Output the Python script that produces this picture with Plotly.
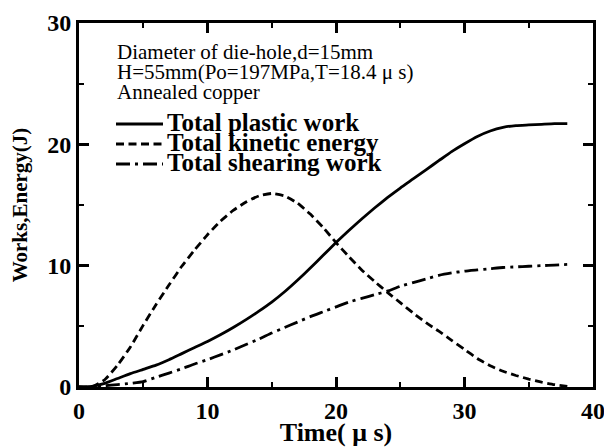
import plotly.graph_objects as go

# ---- data ----
time_us = [0, 1, 2, 3, 4, 5, 6, 7, 8, 9, 10, 11, 12, 13, 14, 15, 16, 17, 18, 19,
           20, 21, 22, 23, 24, 25, 26, 27, 28, 29, 30, 31, 32, 33, 34, 35, 36, 37, 38]

plastic_work = [0, 0.05, 0.3, 0.7, 1.1, 1.45, 1.8, 2.25, 2.75, 3.25, 3.75, 4.3, 4.9, 5.55,
                6.25, 7.0, 7.85, 8.8, 9.8, 10.85, 11.9, 12.9, 13.85, 14.75, 15.6, 16.4, 17.15,
                17.9, 18.65, 19.4, 20.05, 20.65, 21.1, 21.4, 21.55, 21.6, 21.65, 21.7, 21.7]

kinetic_energy = [0, 0.0, 0.6, 1.8, 3.3, 5.1, 6.8, 8.4, 9.95, 11.3, 12.55, 13.65, 14.55, 15.25,
                  15.75, 15.95, 15.75, 15.15, 14.25, 13.15, 11.9, 10.75, 9.65, 8.7, 7.8, 6.95, 6.1,
                  5.3, 4.6, 3.85, 3.1, 2.35, 1.75, 1.3, 0.95, 0.65, 0.4, 0.2, 0.05]

shearing_work = [0, 0.0, 0.1, 0.2, 0.3, 0.45, 0.8, 1.15, 1.5, 1.9, 2.25, 2.65, 3.05, 3.5,
                 3.95, 4.45, 4.9, 5.35, 5.8, 6.2, 6.6, 7.0, 7.3, 7.6, 7.9, 8.3, 8.6, 8.9,
                 9.2, 9.4, 9.55, 9.65, 9.75, 9.85, 9.9, 9.95, 10.0, 10.05, 10.1]

series_names = ["Total plastic work", "Total kinetic energy", "Total shearing work"]
info_lines = ["Diameter of die-hole,d=15mm",
              "H=55mm(Po=197MPa,T=18.4 \u03bc s)",
              "Annealed copper"]

x_ticks = [0, 10, 20, 30, 40]
y_ticks = [0, 10, 20, 30]

# ---- styling ----
W, H = 604, 447
ML, MR, MT, MB = 79, 11, 23, 60
PW, PH = W - ML - MR, H - MT - MB
SERIF = "Liberation Serif, Times New Roman, serif"
dash_styles = ["solid", "8px,4.5px", "14px,5px,3px,5px"]
LW = 2.8

def px_x(px):
    return (px - ML) / PW

def px_y(py):
    return (H - MB - py) / PH

fig = go.Figure()
for name, vals, dash in zip(series_names, [plastic_work, kinetic_energy, shearing_work], dash_styles):
    fig.add_trace(go.Scatter(x=time_us, y=vals, mode="lines", name=name,
                             line=dict(color="black", width=LW, dash=dash, shape="spline", smoothing=0.5),
                             showlegend=False, hoverinfo="skip"))

annotations = []
for i, txt in enumerate(info_lines):
    annotations.append(dict(text=txt, xref="paper", yref="paper",
                            x=px_x(115), y=px_y(52 + 20 * i), xanchor="left", yanchor="middle",
                            showarrow=False, font=dict(family=SERIF, size=21, color="black")))

shapes = []
for i, (name, dash) in enumerate(zip(series_names, dash_styles)):
    yy = px_y(124 + 20 * i)
    shapes.append(dict(type="line", xref="paper", yref="paper",
                       x0=px_x(116), x1=px_x(163), y0=yy, y1=yy,
                       line=dict(color="black", width=LW, dash=dash)))
    annotations.append(dict(text=name, xref="paper", yref="paper",
                            x=px_x(165), y=px_y(122 + 20 * i), xanchor="left", yanchor="middle",
                            showarrow=False, font=dict(family=SERIF, size=25, color="black",
                                                       weight="bold")))

axis_common = dict(showline=True, linecolor="black", linewidth=3, mirror="ticks",
                   ticks="inside", ticklen=10, tickwidth=2.5, tickcolor="black",
                   showgrid=False, zeroline=False, automargin=False,
                   ticklabeloverflow="allow",
                   tickfont=dict(family=SERIF, size=24, color="black", weight="bold"))

fig.update_layout(
    width=W, height=H,
    margin=dict(l=ML, r=MR, t=MT, b=MB),
    paper_bgcolor="white", plot_bgcolor="white",
    xaxis=dict(range=[0, 40], tickvals=x_ticks, ticktext=[str(v) for v in x_ticks],
               minor=dict(ticks="inside", ticklen=5, tickwidth=2, tickcolor="black", dtick=5, tick0=0),
               title=dict(text="Time( \u03bc s)", font=dict(family=SERIF, size=26, color="black", weight="bold"),
                          standoff=4),
               **axis_common),
    yaxis=dict(range=[0, 30], tickvals=y_ticks, ticktext=[str(v) for v in y_ticks],
               minor=dict(ticks="inside", ticklen=5, tickwidth=2, tickcolor="black", dtick=5, tick0=0),
               title=dict(text="Works,Energy(J)", font=dict(family=SERIF, size=21, color="black", weight="bold"),
                          standoff=14),
               **axis_common),
    annotations=annotations,
    shapes=shapes,
)

fig.write_html("out.html")
